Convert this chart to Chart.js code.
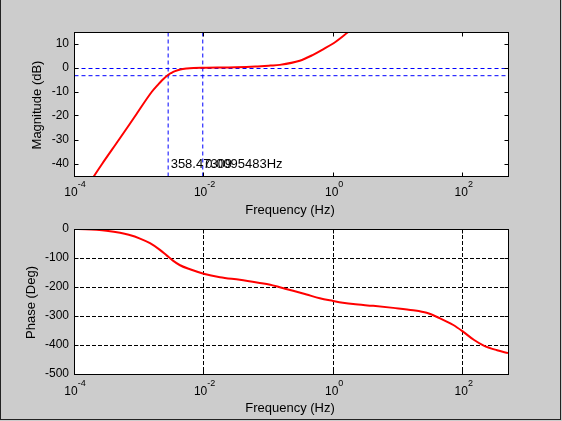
<!DOCTYPE html>
<html><head><meta charset="utf-8">
<script src="https://cdn.jsdelivr.net/npm/chart.js@4"></script>
<style>
html,body{margin:0;padding:0;background:#cccccc;width:562px;height:421px;overflow:hidden;}
#frame{position:absolute;left:0;top:0;width:561px;height:420px;box-sizing:border-box;border-left:1px solid #222;border-right:1px solid #222;border-bottom:1px solid #222;}
canvas{position:absolute;left:0;top:0;}
</style></head><body>
<div id="frame"></div>
<canvas id="c1" width="562" height="421"></canvas>
<canvas id="c2" width="562" height="421"></canvas>
<script>
// ---- data ----
const magFreq = [1.0e-4, 2.04e-4, 2.71e-4, 4.9e-4, 8.8e-4, 1.58e-3, 2.03e-3, 2.27e-3, 2.79e-3, 3.16e-3, 3.63e-3, 4.37e-3, 5.5e-3, 7.0e-3, 0.01, 0.0316, 0.063, 0.107, 0.15, 0.305, 0.49, 0.70, 1.0, 1.71, 3.16];
const magDb   = [-58, -45, -40, -30, -20, -10, -6.6, -5.2, -3, -2.1, -1.3, -0.6, -0.2, 0.0, 0.1, 0.3, 0.6, 1.0, 1.3, 3.0, 5.5, 7.8, 10.2, 15, 20.5];

const phaseFreq = [1e-4, 1.5e-4, 2.24e-4, 3.16e-4, 5.13e-4, 7.0e-4, 1.045e-3, 1.49e-3, 2.12e-3, 2.69e-3, 3.41e-3, 4.33e-3, 6.17e-3, 0.01, 0.0179, 0.0363, 0.07, 0.107, 0.15, 0.241, 0.389, 0.622, 1.0, 1.41, 2.04, 4.15, 8.45, 17.2, 27.7, 44.6, 71.6, 100, 148, 211, 339, 500];
const phaseDeg  = [0, -1, -3, -6, -13, -20, -33, -49, -72, -91, -110, -125, -139, -154, -166, -175, -185, -192, -201, -213, -226, -239, -248, -254, -259, -265, -272, -280, -289, -308, -331, -353, -382, -402, -418, -428];

const xTicks    = [1e-4, 1e-2, 1, 100];
const xTickExp  = ['-4', '-2', '0', '2'];
const magTicks  = [-40, -30, -20, -10, 0, 10];
const phaseTicks = [-500, -400, -300, -200, -100, 0];

const markerFreqs  = [0.0027896, 0.0095483];
const markerLevels = [0, -3];
const markerTexts  = ['358.47309', '0.0095483Hz'];

const FONT = '"Liberation Sans", Arial, Helvetica, sans-serif';

function matlabAxes(o){
  return {
    id: 'matlabAxes',
    beforeDatasetsDraw(chart){
      const {ctx, chartArea:a, scales:{x, y}} = chart;
      ctx.save();
      ctx.fillStyle = '#ffffff';
      ctx.fillRect(a.left, a.top, a.right - a.left, a.bottom - a.top);
      if (o.grid){
        ctx.strokeStyle = '#000'; ctx.lineWidth = 1; ctx.setLineDash([4, 2]);
        ctx.beginPath();
        xTicks.forEach(v => { const p = Math.floor(x.getPixelForValue(v)) + 0.5;
          if (p > a.left + 1 && p < a.right - 1){ ctx.moveTo(p, a.top); ctx.lineTo(p, a.bottom); } });
        o.yTicks.forEach(v => { const p = Math.floor(y.getPixelForValue(v)) + 0.5;
          if (p > a.top + 1 && p < a.bottom - 1){ ctx.moveTo(a.left, p); ctx.lineTo(a.right, p); } });
        ctx.stroke();
      }
      ctx.restore();
    },
    beforeDatasetDraw(chart, args){
      if (args.index > 0){ chart.ctx.save(); chart.ctx.translate(0.5, 0.5); }
    },
    afterDatasetDraw(chart, args){
      if (args.index > 0){ chart.ctx.restore(); }
    },
    afterDatasetsDraw(chart){
      const {ctx, chartArea:a, scales:{x, y}} = chart;
      ctx.save();
      ctx.setLineDash([]);
      ctx.strokeStyle = '#000'; ctx.lineWidth = 1;
      const L = a.left + 0.5, R = a.right + 0.5, T = a.top + 0.5, B = a.bottom + 0.5;
      ctx.strokeRect(L, T, R - L, B - T);
      const tl = 4;
      ctx.beginPath();
      xTicks.forEach(v => { const p = Math.floor(x.getPixelForValue(v)) + 0.5;
        ctx.moveTo(p, B); ctx.lineTo(p, B - tl); ctx.moveTo(p, T); ctx.lineTo(p, T + tl); });
      o.yTicks.forEach(v => { const p = Math.floor(y.getPixelForValue(v)) + 0.5;
        ctx.moveTo(L, p); ctx.lineTo(L + tl, p); ctx.moveTo(R, p); ctx.lineTo(R - tl, p); });
      ctx.stroke();

      ctx.fillStyle = '#000';
      ctx.font = '12px ' + FONT;
      ctx.textAlign = 'right'; ctx.textBaseline = 'middle';
      o.yTicks.forEach(v => { ctx.fillText(String(v), a.left - 5, y.getPixelForValue(v)); });
      ctx.textAlign = 'left'; ctx.textBaseline = 'alphabetic';
      xTicks.forEach((v, i) => {
        ctx.font = '12px ' + FONT; const w1 = ctx.measureText('10').width;
        ctx.font = '9px ' + FONT; const w2 = ctx.measureText(xTickExp[i]).width;
        const px = x.getPixelForValue(v);
        const s = px - (w1 + w2) / 2 + 1;
        ctx.font = '12px ' + FONT; ctx.fillText('10', s, o.xLabelBase);
        ctx.font = '9px ' + FONT; ctx.fillText(xTickExp[i], s + w1, o.xLabelBase - 9);
      });
      ctx.font = '13px ' + FONT;
      ctx.textAlign = 'center'; ctx.textBaseline = 'middle';
      ctx.fillText('Frequency (Hz)', (a.left + a.right) / 2 - 1, o.xTitleY);
      ctx.save();
      ctx.translate(o.yTitleX, (a.top + a.bottom) / 2 + 1);
      ctx.rotate(-Math.PI / 2);
      ctx.fillText(o.yTitle, 0, 0);
      ctx.restore();
      if (o.notes){
        ctx.font = '13px ' + FONT;
        ctx.textAlign = 'left'; ctx.textBaseline = 'middle';
        markerFreqs.forEach((f, i) => {
          ctx.fillText(markerTexts[i], x.getPixelForValue(f) + 3, y.getPixelForValue(-40));
        });
      }
      ctx.restore();
    }
  };
}

function baseOptions(pad, ymin, ymax){
  return {
    responsive: false, animation: false, events: [],
    layout: { padding: pad },
    plugins: { legend: { display: false }, tooltip: { enabled: false } },
    scales: {
      x: { type: 'logarithmic', min: 1e-4, max: 500, display: false },
      y: { type: 'linear', min: ymin, max: ymax, display: false }
    }
  };
}

const redLine = (fx, fy) => ({
  data: fx.map((f, i) => ({ x: f, y: fy[i] })),
  borderColor: '#ff0000', borderWidth: 2, pointRadius: 0,
  cubicInterpolationMode: 'monotone', clip: 0
});

const blue = pts => ({ data: pts, borderColor: '#0000ff', borderWidth: 1, borderDash: [4, 3], pointRadius: 0, clip: 0 });

const magSets = [redLine(magFreq, magDb)];
markerLevels.forEach(l => magSets.push(blue([{ x: 1e-4, y: l }, { x: 500, y: l }])));
markerFreqs.forEach(f => magSets.push(blue([{ x: f, y: -45 }, { x: f, y: 15 }])));

new Chart(document.getElementById('c1'), {
  type: 'line',
  data: { datasets: magSets },
  options: baseOptions({ left: 74, top: 32, right: 54, bottom: 245 }, -45, 15),
  plugins: [matlabAxes({ yTicks: magTicks, grid: false, xLabelBase: 196, xTitleY: 210, yTitleX: 37, yTitle: 'Magnitude (dB)', notes: true })]
});

new Chart(document.getElementById('c2'), {
  type: 'line',
  data: { datasets: [redLine(phaseFreq, phaseDeg)] },
  options: baseOptions({ left: 74, top: 229, right: 54, bottom: 47 }, -500, 0),
  plugins: [matlabAxes({ yTicks: phaseTicks, grid: true, xLabelBase: 395, xTitleY: 408, yTitleX: 31, yTitle: 'Phase (Deg)', notes: false })]
});
</script>
</body></html>
